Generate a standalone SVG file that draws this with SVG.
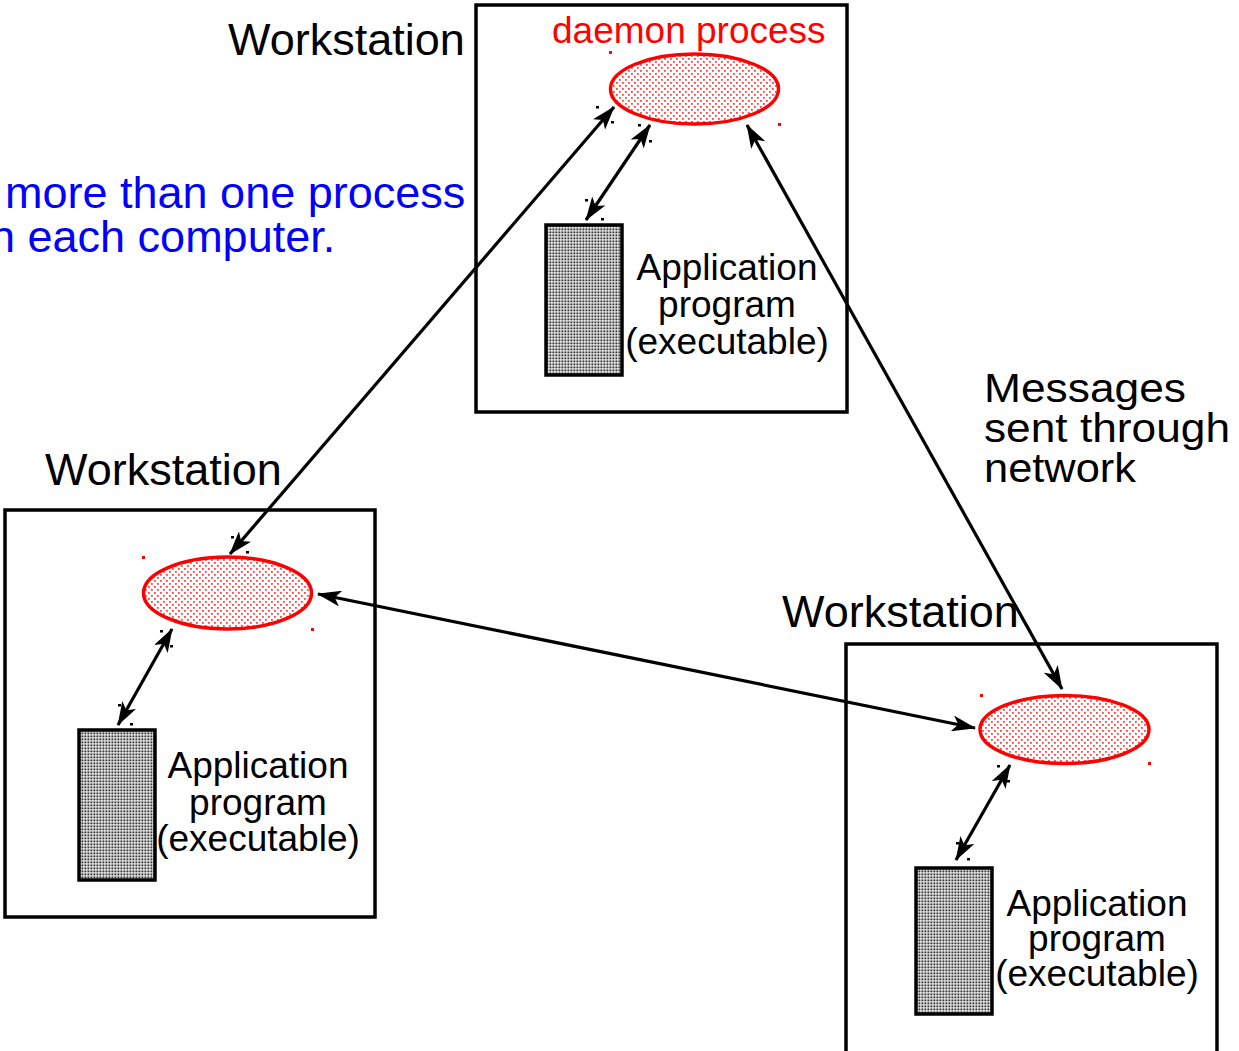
<svg xmlns="http://www.w3.org/2000/svg" width="1239" height="1051" viewBox="0 0 1239 1051">
  <style>
    .box { fill: none; stroke: #000; stroke-width: 3.5; }
    .daemon { fill: url(#redDots); stroke: #f00; stroke-width: 3.5; }
    .app { fill: url(#grayDots); stroke: #000; stroke-width: 3.5; }
    .lbl { font-family: "Liberation Sans", Arial, sans-serif; fill: #000; }
    .ws { font-size: 45px; }
    .appText { font-size: 37px; text-anchor: middle; }
    .note { fill: #00f; font-size: 45px; }
    .link { fill: none; stroke: #000; stroke-width: 3.2; marker-start: url(#head); marker-end: url(#head); }
    .hb { fill: #000; }
    .hr { fill: #f00; }
  </style>
  <defs>
    <pattern id="redDots" width="6" height="6" patternUnits="userSpaceOnUse">
      <rect width="6" height="6" fill="#fff"/>
      <rect x="1" y="1" width="1.8" height="1.8" fill="#f44"/>
      <rect x="4" y="4" width="1.8" height="1.8" fill="#f44"/>
    </pattern>
    <pattern id="grayDots" width="3" height="3" patternUnits="userSpaceOnUse">
      <rect width="3" height="3" fill="#fff"/>
      <rect x="0.4" y="0.4" width="2" height="2" fill="#333"/>
    </pattern>
    <marker id="head" viewBox="0 0 24 16" refX="23" refY="8" markerWidth="24" markerHeight="16" markerUnits="userSpaceOnUse" orient="auto-start-reverse">
      <path d="M0,0 L24,8 L0,16 L6,8 Z" fill="#000"/>
    </marker>
  </defs>

  <rect width="1239" height="1051" fill="#fff"/>

  <!-- free-standing captions -->
  <g id="process-note" class="lbl note">
    <text x="5" y="208">more than one process</text>
    <text x="-10" y="252">n each computer.</text>
  </g>
  <g id="network-note" class="lbl" font-size="41">
    <text x="984" y="402" textLength="202" lengthAdjust="spacingAndGlyphs">Messages</text>
    <text x="984" y="442" textLength="246" lengthAdjust="spacingAndGlyphs">sent through</text>
    <text x="984" y="482" textLength="152" lengthAdjust="spacingAndGlyphs">network</text>
  </g>

  <!-- workstation A (top) -->
  <g id="workstation-top">
    <rect class="box" x="476" y="5" width="371" height="407"/>
    <text class="lbl ws" x="228" y="55">Workstation</text>
  </g>
  <g id="daemon-top">
    <ellipse class="daemon" cx="694.5" cy="89" rx="84" ry="35"/>
    <text class="lbl" x="552" y="43" font-size="37" style="fill:#f00">daemon process</text>
  </g>
  <g id="app-top">
    <rect class="app" x="546" y="225" width="76" height="150"/>
    <text class="lbl appText" x="727" y="280">Application</text>
    <text class="lbl appText" x="727" y="317">program</text>
    <text class="lbl appText" x="727" y="354">(executable)</text>
  </g>

  <!-- workstation B (bottom left) -->
  <g id="workstation-left">
    <rect class="box" x="5" y="510" width="370" height="407"/>
    <text class="lbl ws" x="45" y="485">Workstation</text>
  </g>
  <g id="daemon-left">
    <ellipse class="daemon" cx="227.5" cy="593" rx="84" ry="36"/>
  </g>
  <g id="app-left">
    <rect class="app" x="79" y="730" width="76" height="150"/>
    <text class="lbl appText" x="258" y="778">Application</text>
    <text class="lbl appText" x="258" y="815">program</text>
    <text class="lbl appText" x="258" y="851">(executable)</text>
  </g>

  <!-- workstation C (bottom right) -->
  <g id="workstation-right">
    <rect class="box" x="846" y="644" width="371" height="410"/>
    <text class="lbl ws" x="782" y="627">Workstation</text>
  </g>
  <g id="daemon-right">
    <ellipse class="daemon" cx="1064.5" cy="729.5" rx="84.5" ry="34"/>
  </g>
  <g id="app-right">
    <rect class="app" x="916" y="868" width="76" height="146"/>
    <text class="lbl appText" x="1097" y="916">Application</text>
    <text class="lbl appText" x="1097" y="951">program</text>
    <text class="lbl appText" x="1097" y="986">(executable)</text>
  </g>

  <!-- connectors -->
  <g id="connectors">
    <line class="link" x1="650" y1="125" x2="586" y2="220"/>
    <line class="link" x1="614" y1="107" x2="230" y2="554"/>
    <line class="link" x1="747" y1="125" x2="1062" y2="689"/>
    <line class="link" x1="318" y1="594" x2="975" y2="728"/>
    <line class="link" x1="172" y1="629" x2="118" y2="725"/>
    <line class="link" x1="1010" y1="765" x2="956" y2="860"/>
  </g>

  <!-- small handle marks -->
  <g id="handles">
    <rect class="hr" x="609" y="51" width="3" height="3"/>
    <rect class="hr" x="778" y="123" width="3" height="3"/>
    <rect class="hr" x="142" y="556" width="3" height="3"/>
    <rect class="hr" x="311" y="628" width="3" height="3"/>
    <rect class="hr" x="980" y="694" width="3" height="3"/>
    <rect class="hr" x="1148" y="762" width="3" height="3"/>
    <rect class="hb" x="596" y="106" width="3" height="2.5"/>
    <rect class="hb" x="611" y="121" width="3" height="2.5"/>
    <rect class="hb" x="638" y="124" width="3" height="2.5"/>
    <rect class="hb" x="649" y="140" width="3" height="2.5"/>
    <rect class="hb" x="585" y="199" width="3" height="2.5"/>
    <rect class="hb" x="601" y="218" width="3" height="2.5"/>
    <rect class="hb" x="231" y="536" width="3" height="2.5"/>
    <rect class="hb" x="246" y="551" width="3" height="2.5"/>
    <rect class="hb" x="160" y="630" width="3" height="2.5"/>
    <rect class="hb" x="170" y="645" width="3" height="2.5"/>
    <rect class="hb" x="118" y="704" width="3" height="2.5"/>
    <rect class="hb" x="130" y="723" width="3" height="2.5"/>
    <rect class="hb" x="997" y="765" width="3" height="2.5"/>
    <rect class="hb" x="1007" y="780" width="3" height="2.5"/>
    <rect class="hb" x="956" y="842" width="3" height="2.5"/>
    <rect class="hb" x="967" y="858" width="3" height="2.5"/>
  </g>
</svg>
